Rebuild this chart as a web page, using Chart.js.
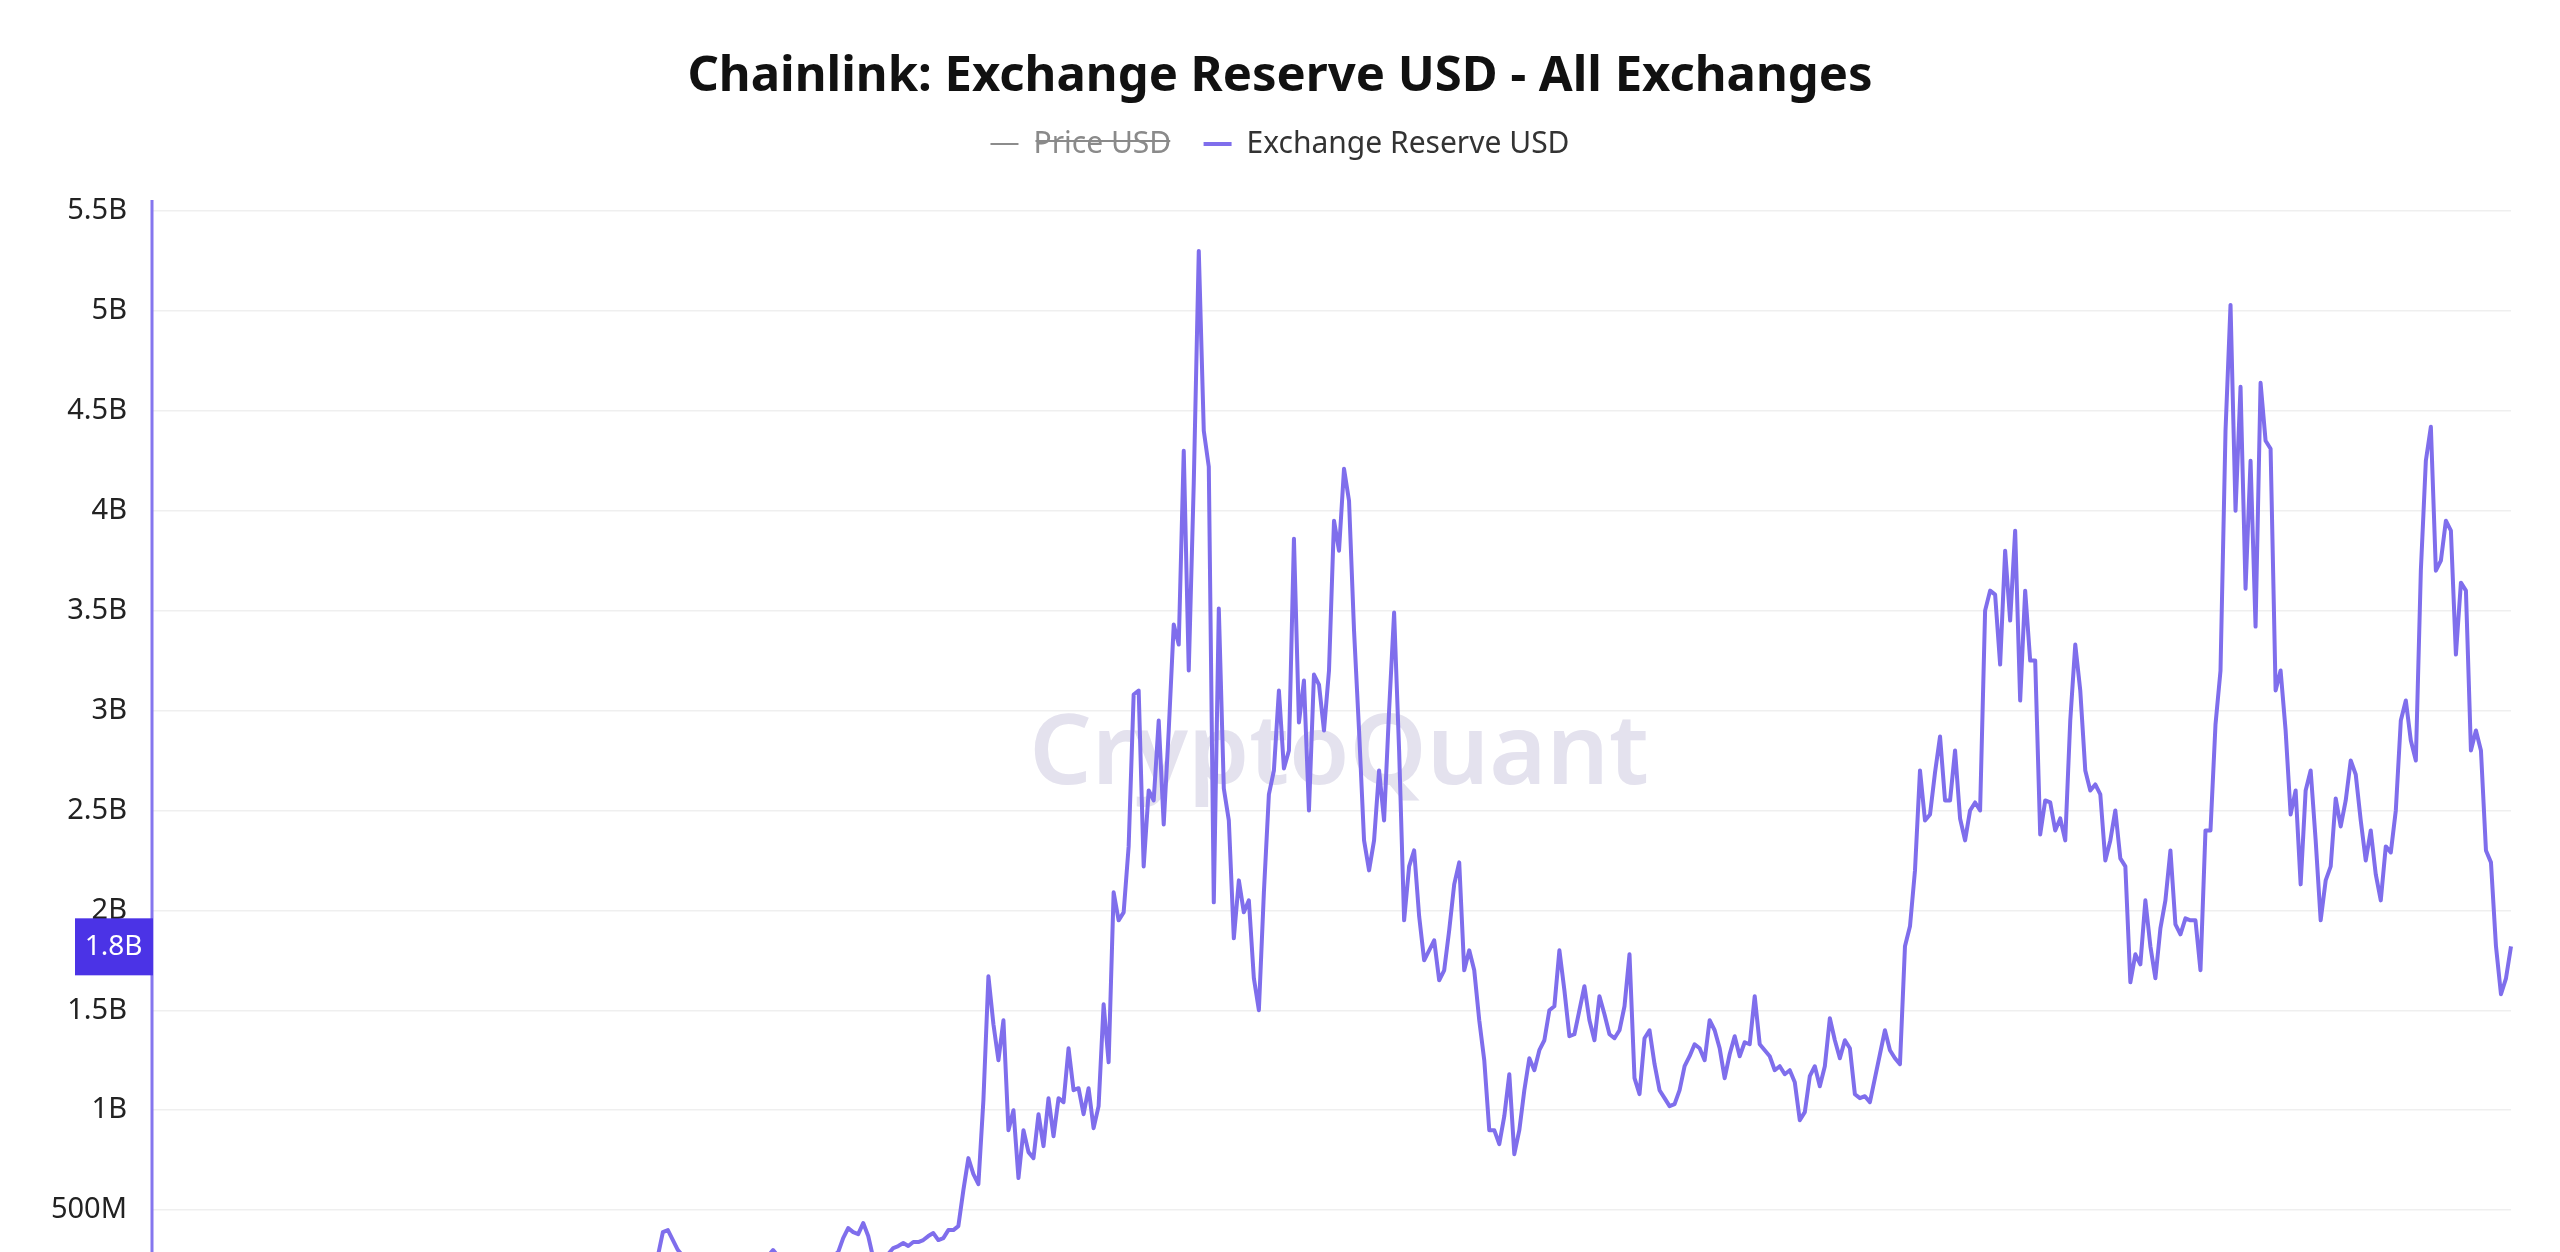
<!DOCTYPE html>
<html>
<head>
<meta charset="utf-8">
<title>Chainlink: Exchange Reserve USD - All Exchanges</title>
<script src="https://cdn.jsdelivr.net/npm/chart.js@4.4.1/dist/chart.umd.min.js"></script>
<style>
  html, body { margin: 0; padding: 0; background: #fff; overflow: hidden; }
  #reserve-chart { display: block; }
</style>
</head>
<body>
<canvas id="reserve-chart" width="2560" height="1400"></canvas>
<script>
// Exchange reserve in billions of USD, one reading every 5 days
const reserveUsd = [
  0.02, 0.02, 0.03, 0.02, 0.03, 0.03, 0.04, 0.03, 0.04, 0.04,
  0.05, 0.04, 0.05, 0.05, 0.06, 0.05, 0.06, 0.07, 0.06, 0.07,
  0.08, 0.07, 0.08, 0.09, 0.08, 0.09, 0.10, 0.09, 0.10, 0.11,
  0.10, 0.12, 0.11, 0.12, 0.13, 0.12, 0.13, 0.14, 0.13, 0.14,
  0.15, 0.14, 0.16, 0.15, 0.16, 0.17, 0.16, 0.15, 0.16, 0.17,
  0.18, 0.17, 0.18, 0.19, 0.18, 0.19, 0.20, 0.19, 0.20, 0.21,
  0.20, 0.21, 0.22, 0.21, 0.20, 0.21, 0.22, 0.23, 0.22, 0.21,
  0.22, 0.23, 0.24, 0.23, 0.22, 0.23, 0.24, 0.25, 0.24, 0.23,
  0.24, 0.25, 0.24, 0.23, 0.24, 0.25, 0.26, 0.25, 0.24, 0.25,
  0.26, 0.27, 0.26, 0.25, 0.26, 0.27, 0.27, 0.27, 0.26, 0.27,
  0.27, 0.27, 0.39, 0.40, 0.35, 0.30, 0.27, 0.26, 0.26, 0.25,
  0.24, 0.25, 0.23, 0.24, 0.26, 0.25, 0.24, 0.23, 0.25, 0.26,
  0.27, 0.26, 0.27, 0.27, 0.30, 0.27, 0.26, 0.25, 0.24, 0.25,
  0.26, 0.25, 0.24, 0.26, 0.27, 0.26, 0.27, 0.29, 0.36, 0.41,
  0.39, 0.38, 0.435, 0.37, 0.26, 0.24, 0.26, 0.28, 0.31, 0.32,
  0.335, 0.32, 0.34, 0.34, 0.35, 0.37, 0.385, 0.35, 0.36, 0.40,
  0.40, 0.42, 0.60, 0.76, 0.68, 0.63, 1.05, 1.67, 1.43, 1.25,
  1.45, 0.90, 1.00, 0.66, 0.90, 0.79, 0.76, 0.98, 0.82, 1.06,
  0.87, 1.06, 1.04, 1.31, 1.10, 1.11, 0.98, 1.11, 0.91, 1.02,
  1.53, 1.24, 2.09, 1.95, 1.99, 2.32, 3.08, 3.10, 2.22, 2.60,
  2.55, 2.95, 2.43, 2.90, 3.43, 3.33, 4.30, 3.20, 4.14, 5.30,
  4.40, 4.22, 2.04, 3.51, 2.61, 2.45, 1.86, 2.15, 1.99, 2.05,
  1.66, 1.50, 2.09, 2.58, 2.70, 3.10, 2.71, 2.80, 3.86, 2.94,
  3.15, 2.50, 3.18, 3.13, 2.90, 3.20, 3.95, 3.80, 4.21, 4.05,
  3.40, 2.90, 2.35, 2.20, 2.35, 2.70, 2.45, 3.00, 3.49, 2.80,
  1.95, 2.22, 2.30, 1.97, 1.75, 1.80, 1.85, 1.65, 1.70, 1.90,
  2.13, 2.24, 1.70, 1.80, 1.70, 1.45, 1.25, 0.90, 0.90, 0.83,
  0.97, 1.18, 0.78, 0.90, 1.10, 1.26, 1.20, 1.30, 1.35, 1.50,
  1.52, 1.80, 1.60, 1.37, 1.38, 1.50, 1.62, 1.45, 1.35, 1.57,
  1.48, 1.38, 1.36, 1.40, 1.52, 1.78, 1.16, 1.08, 1.36, 1.40,
  1.23, 1.10, 1.06, 1.02, 1.03, 1.10, 1.22, 1.27, 1.33, 1.31,
  1.25, 1.45, 1.40, 1.31, 1.16, 1.28, 1.37, 1.27, 1.34, 1.33,
  1.57, 1.33, 1.30, 1.27, 1.20, 1.22, 1.18, 1.20, 1.14, 0.95,
  0.99, 1.17, 1.22, 1.12, 1.22, 1.46, 1.35, 1.26, 1.35, 1.31,
  1.08, 1.06, 1.07, 1.04, 1.16, 1.28, 1.40, 1.30, 1.26, 1.23,
  1.82, 1.92, 2.20, 2.70, 2.45, 2.48, 2.69, 2.87, 2.55, 2.55,
  2.80, 2.46, 2.35, 2.50, 2.54, 2.50, 3.50, 3.60, 3.58, 3.23,
  3.80, 3.45, 3.90, 3.05, 3.60, 3.25, 3.25, 2.38, 2.55, 2.54,
  2.40, 2.46, 2.35, 2.95, 3.33, 3.10, 2.70, 2.60, 2.63, 2.58,
  2.25, 2.35, 2.50, 2.26, 2.22, 1.64, 1.78, 1.73, 2.05, 1.82,
  1.66, 1.91, 2.05, 2.30, 1.93, 1.88, 1.96, 1.95, 1.95, 1.70,
  2.40, 2.40, 2.93, 3.20, 4.40, 5.03, 4.00, 4.62, 3.61, 4.25,
  3.42, 4.64, 4.35, 4.31, 3.10, 3.20, 2.90, 2.48, 2.60, 2.13,
  2.60, 2.70, 2.35, 1.95, 2.15, 2.22, 2.56, 2.42, 2.55, 2.75,
  2.68, 2.45, 2.25, 2.40, 2.18, 2.05, 2.32, 2.29, 2.50, 2.95,
  3.05, 2.85, 2.75, 3.70, 4.25, 4.42, 3.70, 3.75, 3.95, 3.90,
  3.28, 3.64, 3.60, 2.80, 2.90, 2.80, 2.30, 2.24, 1.82, 1.58,
  1.66, 1.82
];

// price series is switched off in the legend, so it has nothing to draw
const priceUsd = [];

const tickValues = [0, 0.5, 1, 1.5, 2, 2.5, 3, 3.5, 4, 4.5, 5, 5.5];
const tickLabels = ['0', '500M', '1B', '1.5B', '2B', '2.5B', '3B', '3.5B', '4B', '4.5B', '5B', '5.5B'];

const startDay = Date.UTC(2018, 6, 1);
const dates = reserveUsd.map((_, i) => new Date(startDay + i * 5 * 86400000).toISOString().slice(0, 10));

const FONT = '"Noto Sans", "Open Sans", sans-serif';
const LINE_COLOR = 'rgb(127, 110, 236)';

const decorPlugin = {
  id: 'decor',
  beforeDatasetsDraw(chart) {
    const {ctx} = chart;
    ctx.save();
    ctx.font = '600 98px ' + FONT;
    ctx.fillStyle = '#e4e2ee';
    ctx.textAlign = 'center';
    ctx.textBaseline = 'alphabetic';
    ctx.fillText('CryptoQuant', 1339, 784);
    ctx.restore();
  },
  afterDraw(chart) {
    const {ctx, chartArea} = chart;
    const yScale = chart.scales.y;
    const axisX = chartArea.left;

    ctx.save();
    ctx.strokeStyle = '#8576ee';
    ctx.lineWidth = 3;
    ctx.beginPath();
    ctx.moveTo(axisX, yScale.getPixelForValue(5.555));
    ctx.lineTo(axisX, chart.height);
    ctx.stroke();

    // current value badge on the axis
    const last = reserveUsd[reserveUsd.length - 1];
    const py = yScale.getPixelForValue(last);
    ctx.fillStyle = '#4b33e6';
    ctx.fillRect(75, py - 28, axisX - 75 + 1, 57);
    ctx.fillStyle = '#ffffff';
    ctx.font = '28px ' + FONT;
    ctx.textAlign = 'center';
    ctx.textBaseline = 'middle';
    ctx.fillText(last.toFixed(1) + 'B', (75 + axisX) / 2, py + 1);
    ctx.restore();
  }
};

new Chart(document.getElementById('reserve-chart'), {
  type: 'line',
  data: {
    labels: dates,
    datasets: [{
      label: 'Price USD',
      data: priceUsd,
      hidden: true,
      borderColor: '#8c8c8c',
      backgroundColor: '#8c8c8c',
      borderWidth: 2,
      pointRadius: 0,
      pointStyle: 'line'
    }, {
      label: 'Exchange Reserve USD',
      data: reserveUsd,
      borderColor: LINE_COLOR,
      backgroundColor: LINE_COLOR,
      borderWidth: 4,
      borderJoinStyle: 'round',
      pointRadius: 0,
      pointStyle: 'line',
      tension: 0
    }]
  },
  options: {
    responsive: false,
    animation: false,
    devicePixelRatio: 1,
    layout: {
      padding: {left: 49, right: 49, top: 0, bottom: 90}
    },
    plugins: {
      title: {
        display: true,
        text: 'Chainlink: Exchange Reserve USD - All Exchanges',
        color: '#111',
        font: {family: FONT, size: 49, weight: 'bold', lineHeight: 0.8},
        padding: {top: 57.4, bottom: 0}
      },
      legend: {
        position: 'top',
        labels: {
          usePointStyle: true,
          pointStyleWidth: 28,
          padding: 32.4,
          color: '#333',
          font: {family: FONT, size: 30},
          generateLabels(chart) {
            const items = Chart.defaults.plugins.legend.labels.generateLabels(chart);
            items.forEach(item => {
              item.fontColor = item.hidden ? '#8a8a8a' : '#333';
            });
            return items;
          }
        }
      },
      tooltip: {enabled: false}
    },
    scales: {
      x: {
        display: false
      },
      y: {
        min: 0,
        max: 5.71,
        afterBuildTicks: (scale) => {
          scale.ticks = tickValues.map(v => ({value: v}));
        },
        afterFit: (scale) => {
          scale.width = 103;
        },
        ticks: {
          callback: (value) => tickLabels[tickValues.indexOf(value)] || '',
          color: '#222',
          padding: 25,
          font: {family: FONT, size: 29}
        },
        grid: {
          color: '#efefef',
          lineWidth: 1.5,
          drawTicks: false
        },
        border: {display: false}
      }
    }
  },
  plugins: [decorPlugin]
});
</script>
</body>
</html>
